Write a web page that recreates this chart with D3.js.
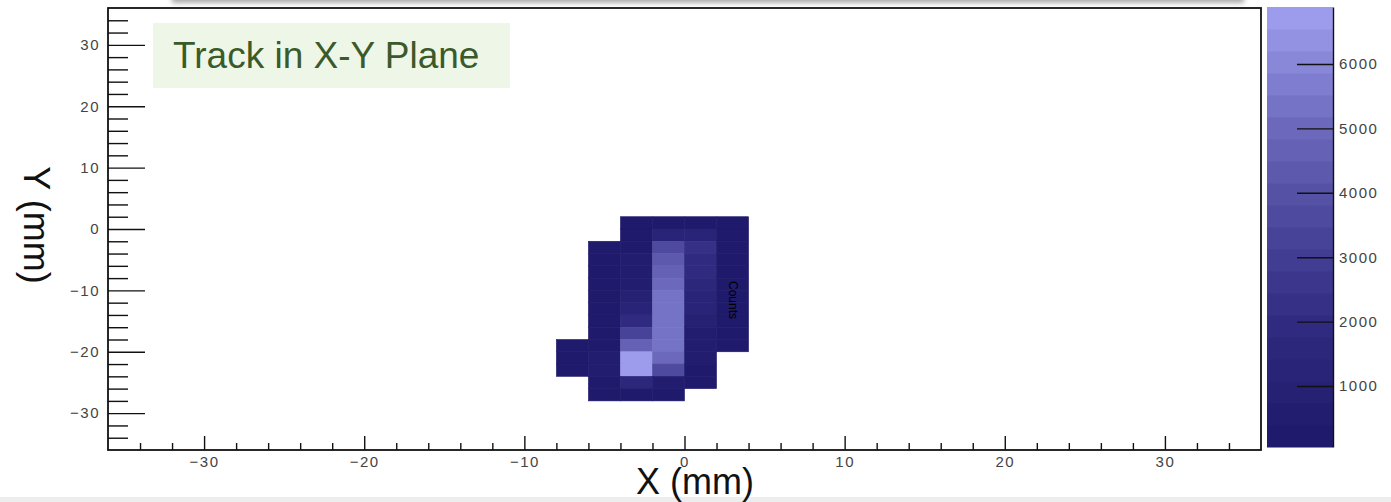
<!DOCTYPE html>
<html>
<head>
<meta charset="utf-8">
<script src="https://cdn.jsdelivr.net/npm/d3@7"></script>
<style>
  body { margin: 0; background: #fff; }
  svg { display: block; font-family: "Liberation Sans", Arial, sans-serif; }
</style>
</head>
<body>
<svg id="chart" width="1391" height="502"></svg>
<script>
// 2 mm x 2 mm bins, lower edges (mm)
var xBinLows = [-8, -6, -4, -2, 0, 2];
var yBinLows = [0, -2, -4, -6, -8, -10, -12, -14, -16, -18, -20, -22, -24, -26, -28];
var binSize = 2;

// counts per bin, one row per yBinLows entry, one column per xBinLows entry (0 = empty)
var counts = [
	[0,   0,    150,  180,  170,  140],
	[0,   0,    250,  1100, 1100, 160],
	[0,   120,  300,  3800, 2200, 180],
	[0,   130,  420,  4300, 1900, 170],
	[0,   140,  600,  4700, 1800, 160],
	[0,   150,  700,  5100, 1700, 150],
	[0,   150,  900,  5200, 1400, 140],
	[0,   140,  1100, 5500, 1100, 130],
	[0,   150,  2100, 5500, 800,  140],
	[0,   160,  3400, 5500, 650,  130],
	[120, 350,  4800, 5400, 450,  120],
	[110, 700,  6885, 5100, 420,  0],
	[100, 600,  6700, 3800, 250,  0],
	[0,   150,  1600, 450,  120,  0],
	[0,   130,  160,  150,  0,    0]
];

var xTicks = [-30, -20, -10, 0, 10, 20, 30];
var yTicks = [-30, -20, -10, 0, 10, 20, 30];
var zTicks = [1000, 2000, 3000, 4000, 5000, 6000];
var zRange = [53, 6885];
var nContours = 20;
var paletteStops = ["#1f1a6b", "#2f2a7e", "#4a469b", "#6e6bbe", "#9d9beb"];

var svg = d3.select("#chart");
var frame = { left: 108, right: 1261, top: 8, bottom: 450 };
var bar = { left: 1267, right: 1333, top: 7, bottom: 447 };

var x = d3.scaleLinear().domain([-36, 36]).range([frame.left, frame.right]);
var y = d3.scaleLinear().domain([-36, 36]).range([frame.bottom, frame.top]);
var z = d3.scaleLinear().domain(zRange).range([bar.bottom, bar.top]);

var ramp = d3.scaleLinear()
	.domain(d3.range(paletteStops.length).map(function(i){ return i / (paletteStops.length - 1); }))
	.range(paletteStops)
	.interpolate(d3.interpolateRgb);

function bandColor(i){
	return ramp(i / (nContours - 1));
}

function bandOf(v){
	var b = Math.floor(nContours * (v - zRange[0]) / (zRange[1] - zRange[0]));
	return Math.max(0, Math.min(nContours - 1, b));
}

drawDecor();
drawCells();
drawAxes();
drawPalette();
drawTitles();

function drawDecor(){
	var defs = svg.append("defs");
	defs.append("filter").attr("id", "soft").attr("x", "-5%").attr("y", "-200%").attr("width", "110%").attr("height", "500%")
		.append("feGaussianBlur").attr("stdDeviation", 2.5);

	svg.append("rect").attr("x", 172).attr("y", -7).attr("width", 1072).attr("height", 10)
		.attr("fill", "#aaa").attr("filter", "url(#soft)");
	svg.append("rect").attr("x", 0).attr("y", 497).attr("width", 1391).attr("height", 5)
		.attr("fill", "#ededed");
}

function drawCells(){
	var cells = [];
	yBinLows.forEach(function(yl, r){
		xBinLows.forEach(function(xl, c){
			var v = counts[r][c];
			if (v > 0) cells.push({ x: xl, y: yl, v: v });
		});
	});

	svg.append("g").selectAll("rect").data(cells).enter().append("rect")
		.attr("x", function(d){ return x(d.x); })
		.attr("y", function(d){ return y(d.y + binSize); })
		.attr("width", function(d){ return x(d.x + binSize) - x(d.x); })
		.attr("height", function(d){ return y(d.y) - y(d.y + binSize); })
		.attr("fill", function(d){ return bandColor(bandOf(d.v)); })
		.attr("stroke", function(d){ return bandColor(bandOf(d.v)); })
		.attr("stroke-width", 0.6);

	svg.append("text")
		.attr("transform", "translate(729,300) rotate(90)")
		.attr("text-anchor", "middle")
		.attr("font-size", 12)
		.attr("fill", "#000")
		.text("Counts");
}

function styleLabels(sel){
	sel.attr("fill", "#444").attr("font-size", 15).attr("letter-spacing", 1.5)
		.attr("font-family", "\"Liberation Sans\", Arial, sans-serif");
}

function styleAxis(g){
	g.select(".domain").remove();
	g.selectAll("line").attr("stroke", "#111").attr("stroke-width", 1.4);
	g.selectAll("text").call(styleLabels);
}

function drawAxes(){
	var minor = d3.range(-34, 35, 2).filter(function(d){ return d % 10 !== 0; });

	svg.append("g").attr("transform", "translate(0," + frame.bottom + ")")
		.call(d3.axisBottom(x).tickValues(minor).tickSize(-7).tickFormat(""))
		.call(styleAxis);
	svg.append("g").attr("transform", "translate(0," + frame.bottom + ")")
		.call(d3.axisBottom(x).tickValues(xTicks).tickSize(-14).tickPadding(6))
		.call(styleAxis);

	svg.append("g").attr("transform", "translate(" + frame.left + ",0)")
		.call(d3.axisLeft(y).tickValues(minor).tickSize(-20).tickFormat(""))
		.call(styleAxis);
	svg.append("g").attr("transform", "translate(" + frame.left + ",0)")
		.call(d3.axisLeft(y).tickValues(yTicks).tickSize(-37).tickPadding(8))
		.call(styleAxis);

	svg.append("rect")
		.attr("x", frame.left).attr("y", frame.top)
		.attr("width", frame.right - frame.left).attr("height", frame.bottom - frame.top)
		.attr("fill", "none").attr("stroke", "#111").attr("stroke-width", 1.8);
}

function drawPalette(){
	var bands = d3.range(nContours);
	var step = (zRange[1] - zRange[0]) / nContours;

	svg.append("g").selectAll("rect").data(bands).enter().append("rect")
		.attr("x", bar.left)
		.attr("y", function(i){ return z(zRange[0] + (i + 1) * step); })
		.attr("width", bar.right - bar.left)
		.attr("height", function(i){ return z(zRange[0] + i * step) - z(zRange[0] + (i + 1) * step) + 0.5; })
		.attr("fill", function(i){ return bandColor(i); });

	var g = svg.append("g").attr("transform", "translate(" + bar.right + ",0)")
		.call(d3.axisRight(z).tickValues(zTicks).tickSizeInner(-36).tickSizeOuter(0).tickPadding(6).tickFormat(d3.format("d")));
	g.select(".domain").attr("stroke", "#111").attr("stroke-width", 1.4);
	g.selectAll("line").attr("stroke", "#111").attr("stroke-width", 1.4);
	g.selectAll("text").call(styleLabels);
}

function drawTitles(){
	svg.append("rect").attr("x", 153).attr("y", 23).attr("width", 357).attr("height", 65)
		.attr("fill", "#eef6e8");
	svg.append("text").attr("x", 173).attr("y", 68)
		.attr("font-size", 37).attr("fill", "#3b5a2a")
		.text("Track in X-Y Plane");

	svg.append("text").attr("x", 636).attr("y", 494)
		.attr("font-size", 36).attr("fill", "#111")
		.text("X (mm)");

	svg.append("text")
		.attr("transform", "translate(24,225) rotate(90)")
		.attr("text-anchor", "middle")
		.attr("font-size", 36).attr("fill", "#111")
		.text("Y (mm)");
}
</script>
</body>
</html>
